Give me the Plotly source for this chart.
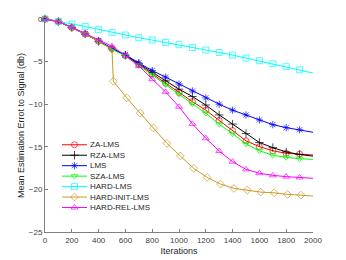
import plotly.graph_objects as go

iters = [0, 100, 200, 300, 400, 500, 600, 700, 800, 900, 1000,
         1100, 1200, 1300, 1400, 1500, 1600, 1700, 1800, 1900, 2000]

za_lms = [0, -0.3, -1.0, -1.75, -2.6, -3.5, -4.3, -5.35, -6.45, -7.53, -8.63,
          -9.7, -10.7, -11.9, -13.1, -14.3, -14.98, -15.46, -15.77, -15.85, -15.96]
rza_lms = [0, -0.3, -1.0, -1.75, -2.6, -3.5, -4.25, -5.25, -6.28, -7.26, -8.24,
           -9.1, -10.1, -11.26, -12.33, -13.45, -14.5, -15.1, -15.6, -15.9, -16.1]
lms = [0, -0.3, -1.0, -1.75, -2.55, -3.45, -4.2, -5.15, -6.05, -6.82, -7.63,
       -8.45, -9.26, -10.0, -10.7, -11.26, -11.85, -12.4, -12.75, -13.0, -13.3]
sza_lms = [0, -0.3, -1.0, -1.75, -2.62, -3.55, -4.35, -5.45, -6.55, -7.7, -8.85,
           -9.95, -11.06, -12.35, -13.45, -14.67, -15.46, -16.0, -16.24, -16.4, -16.47]
hard_lms = [0, -0.28, -0.6, -0.87, -1.22, -1.57, -1.88, -2.2, -2.47, -2.75, -3.02,
            -3.34, -3.65, -3.93, -4.24, -4.59, -4.9, -5.26, -5.6, -5.96, -6.35]
hard_rel_lms = [0, -0.3, -0.95, -1.7, -2.5, -3.2, -4.3, -5.5, -7.06, -8.55, -10.3,
                -12.3, -14.0, -15.5, -16.75, -17.65, -18.1, -18.35, -18.5, -18.6, -18.7]

hard_init_iters = [0, 100, 200, 300, 400, 500, 510, 610, 710, 810, 910, 1010,
                   1110, 1210, 1310, 1410, 1510, 1610, 1710, 1810, 1910, 2000]
hard_init_lms = [0, -0.3, -1.0, -1.75, -2.65, -3.55, -7.3, -9.25, -11.05, -12.8, -14.6, -16.08,
                 -17.53, -18.59, -19.38, -19.88, -20.08, -20.32, -20.4, -20.59, -20.67, -20.79]

x_ticks = [0, 200, 400, 600, 800, 1000, 1200, 1400, 1600, 1800, 2000]
y_ticks = [0, -5, -10, -15, -20, -25]

series = [
    ("ZA-LMS", iters, za_lms, "#FF0000", "circle-open"),
    ("RZA-LMS", iters, rza_lms, "#000000", "cross-thin-open"),
    ("LMS", iters, lms, "#0000FF", "asterisk-open"),
    ("SZA-LMS", iters, sza_lms, "#00FF00", "triangle-down-open"),
    ("HARD-LMS", iters, hard_lms, "#00FFFF", "square-open"),
    ("HARD-INIT-LMS", hard_init_iters, hard_init_lms, "#CC9922", "diamond-open"),
    ("HARD-REL-LMS", iters, hard_rel_lms, "#FF00FF", "triangle-up-open"),
]

fig = go.Figure()
for name, xs, ys, col, sym in series:
    sizes = [6] * (len(xs) - 1) + [0]
    fig.add_trace(go.Scatter(
        x=xs, y=ys, mode="lines+markers", name=name,
        line=dict(color=col, width=1),
        marker=dict(symbol=sym, size=sizes, color=col, line=dict(color=col, width=1)),
        cliponaxis=False, showlegend=False,
    ))

# legend drawn in a small overlay axis
for i, (name, xs, ys, col, sym) in enumerate(series):
    fig.add_trace(go.Scatter(
        x=[0, 1, 2], y=[i, i, i], mode="lines+markers",
        line=dict(color=col, width=1),
        marker=dict(symbol=sym, size=[0, 6, 0], color=col, line=dict(color=col, width=1)),
        xaxis="x2", yaxis="y2", showlegend=False, hoverinfo="skip", cliponaxis=False,
    ))
    fig.add_annotation(x=2, y=i, xref="x2", yref="y2", text=name, showarrow=False,
                       xanchor="left", xshift=1, font=dict(size=8, color="#262626"))

axis_font = dict(family="Liberation Sans, Arial, sans-serif", size=8, color="#404040")
# page body has an 8px default margin, so the figure is sized to fit inside it
fig.update_layout(
    width=338, height=252,
    margin=dict(l=37, r=33, t=11, b=28),
    paper_bgcolor="white", plot_bgcolor="white",
    font=dict(family="Liberation Sans, Arial, sans-serif", size=8, color="#262626"),
    xaxis=dict(range=[0, 2000], tickvals=x_ticks, ticks="inside", ticklen=3,
               showline=True, linecolor="#808080", linewidth=1, tickcolor="#808080",
               showgrid=False, zeroline=False, tickfont=axis_font, automargin=False,
               title=dict(text="Iterations", font=dict(size=9, color="#262626"), standoff=4)),
    yaxis=dict(range=[-25, 0], tickvals=y_ticks, ticks="inside", ticklen=3,
               showline=True, linecolor="#808080", linewidth=1, tickcolor="#808080",
               showgrid=False, zeroline=False, tickfont=axis_font, automargin=False,
               title=dict(text="Mean Estimation Errot to Signal (db)",
                          font=dict(size=9, color="#262626"), standoff=2)),
    xaxis2=dict(domain=[0.0634, 0.1567], range=[0, 2], visible=False, anchor="y2"),
    yaxis2=dict(domain=[0.0904, 0.4341], range=[6.5, -0.5], visible=False, anchor="x2"),
)

fig.write_html("out.html")
